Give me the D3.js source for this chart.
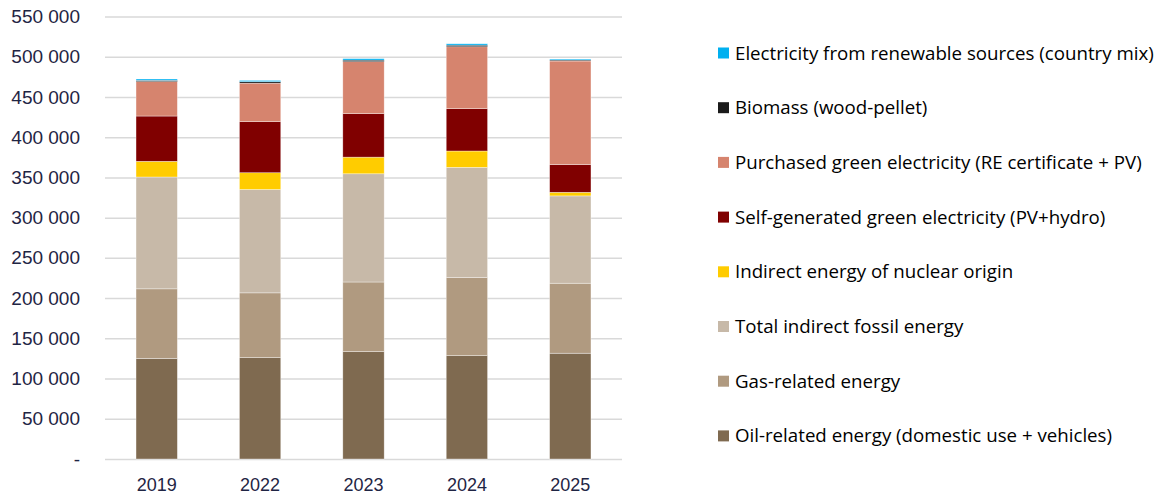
<!DOCTYPE html>
<html>
<head>
<meta charset="utf-8">
<script src="https://cdn.jsdelivr.net/npm/d3@7"></script>
<style>
	body { margin: 0; background: #fff; }
	svg { display: block; font-family: "Open Sans", sans-serif; }
</style>
</head>
<body>
<svg id="chart" width="1164" height="501"></svg>
<script>
const years = ['2019', '2022', '2023', '2024', '2025'];

// stacked bottom to top
const seriesNames = [
	'Oil-related energy (domestic use + vehicles)',
	'Gas-related energy',
	'Total indirect fossil energy',
	'Indirect energy of nuclear origin',
	'Self-generated green electricity (PV+hydro)',
	'Purchased green electricity (RE certificate + PV)',
	'Biomass (wood-pellet)',
	'Electricity from renewable sources (country mix)'
];

const oil       = [125000, 126000, 133500, 128500, 131500];
const gas       = [86500, 80500, 86500, 97000, 87000];
const fossil    = [139000, 128500, 134500, 137000, 108500];
const nuclear   = [19500, 20800, 20700, 20300, 4500];
const selfGen   = [56300, 63500, 54000, 52600, 34400];
const purchased = [42700, 47900, 64600, 77000, 128800];
const biomass   = [1700, 1800, 2000, 2000, 1200];
const renewable = [1600, 1600, 1800, 1700, 1200];

const colors = ['#7f6a50', '#b09a80', '#c7b9a8', '#ffcc00', '#800000', '#d6846e', '#1a1a1a', '#00b0f0'];

const yTicks = d3.range(0, 550001, 50000);

const svg = d3.select('#chart');

const plotLeft = 105, plotRight = 622;
const plotTop = 16.5, plotBottom = 459;

const rows = years.map((y, i) => ({
	year: y,
	s0: oil[i], s1: gas[i], s2: fossil[i], s3: nuclear[i],
	s4: selfGen[i], s5: purchased[i], s6: biomass[i], s7: renewable[i]
}));
const keys = seriesNames.map((_, i) => 's' + i);

const stacked = d3.stack().keys(keys)(rows);

const scaleX = d3.scaleBand()
	.domain(years)
	.range([plotLeft, plotRight])
	.paddingInner(0.6)
	.paddingOuter(0.3);

const scaleY = d3.scaleLinear()
	.domain([0, 550000])
	.range([plotBottom, plotTop]);

// gridlines + y labels
const leftAxisG = svg.append('g')
	.attr('transform', 'translate(' + plotLeft + ',0)')
	.call(d3.axisLeft(scaleY)
		.tickValues(yTicks)
		.tickSize(-(plotRight - plotLeft))
		.tickPadding(25)
		.tickFormat(v => v === 0 ? '-' : d3.format(',')(v).replace(/,/g, ' ')));

leftAxisG.select('.domain').remove();
leftAxisG.selectAll('.tick line')
	.attr('stroke', '#d9d9d9')
	.attr('stroke-width', 1.5);
leftAxisG.selectAll('.tick text')
	.attr('fill', '#1f2544')
	.attr('font-size', 19);

// bars
svg.append('g')
	.selectAll('g')
	.data(stacked)
	.join('g')
	.attr('fill', (d, i) => colors[i])
	.selectAll('rect')
	.data(d => d)
	.join('rect')
	.attr('x', d => scaleX(d.data.year))
	.attr('width', scaleX.bandwidth())
	.attr('y', d => scaleY(d[1]))
	.attr('height', d => scaleY(d[0]) - scaleY(d[1]))
	.attr('stroke', '#ffffff')
	.attr('stroke-opacity', 0.6)
	.attr('stroke-width', 0.6);

// x labels
const bottomAxisG = svg.append('g')
	.attr('transform', 'translate(0,' + plotBottom + ')')
	.call(d3.axisBottom(scaleX).tickSize(0).tickPadding(19));

bottomAxisG.select('.domain').remove();
bottomAxisG.selectAll('.tick text')
	.attr('fill', '#1f2544')
	.attr('font-size', 18);

// legend, top entry is last series
const legendOrder = seriesNames.map((n, i) => ({ name: n, color: colors[i] })).reverse();

const legend = svg.append('g')
	.selectAll('g')
	.data(legendOrder)
	.join('g')
	.attr('transform', (d, i) => 'translate(718,' + (53 + i * 54.7) + ')');

legend.append('rect')
	.attr('x', 0)
	.attr('y', -5.5)
	.attr('width', 11)
	.attr('height', 11)
	.attr('fill', d => d.color);

legend.append('text')
	.attr('x', 17)
	.attr('dy', '0.35em')
	.attr('fill', '#000')
	.attr('font-size', 18.7)
	.text(d => d.name);
</script>
</body>
</html>
